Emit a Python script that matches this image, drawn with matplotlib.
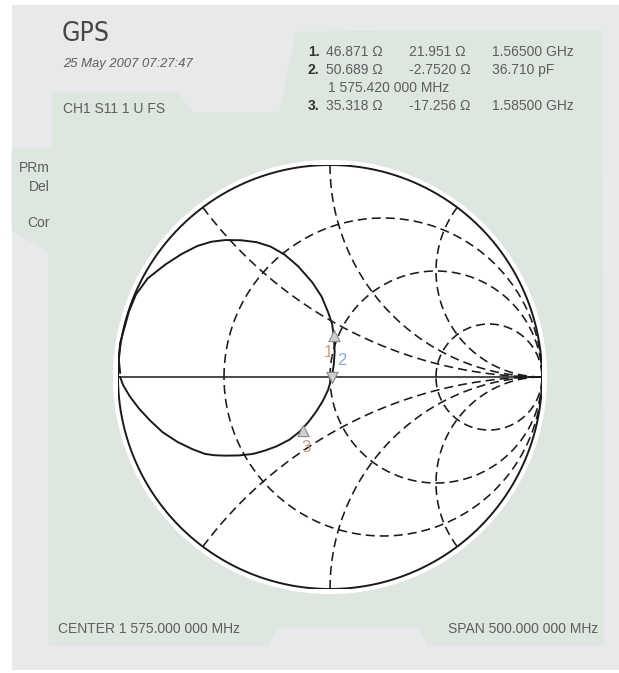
import matplotlib
matplotlib.use("Agg")
import matplotlib.pyplot as plt
import numpy as np
from matplotlib.patches import Polygon, Circle
from matplotlib.path import Path
from matplotlib import font_manager
from matplotlib.font_manager import FontProperties

plt.rcParams["lines.scale_dashes"] = False

# ---------------------------------------------------------------- header text
title = "GPS"
timestamp = "25 May 2007 07:27:47"
channel = "CH1 S11 1 U FS"
side_labels = ["PRm", "Del", "Cor"]
center_label = "CENTER 1 575.000 000 MHz"
span_label = "SPAN 500.000 000 MHz"

# ---------------------------------------------------------------- marker readout
marker_ids = ["1", "2", "3"]
marker_r = [46.871, 50.689, 35.318]      # resistance, ohm
marker_x = [21.951, -2.7520, -17.256]    # reactance, ohm
marker_extra = ["1.56500 GHz", "36.710 pF", "1.58500 GHz"]
marker2_freq = "1 575.420 000 MHz"
z0 = 50.0

# ---------------------------------------------------------------- Smith grid
grid_r = [1 / 3, 1.0, 3.0]
grid_x = [0.5, 1.0, 2.0]

# ---------------------------------------------------------------- S11 trace (reflection coefficient)
trace_re = [-0.990, -0.996, -0.990, -0.972, -0.948, -0.916, -0.860, -0.776, -0.700,
            -0.626, -0.560, -0.495, -0.420, -0.346, -0.280, -0.215, -0.150, -0.084,
            -0.040, -0.009, 0.010, 0.019, 0.022, 0.018, 0.009, -0.009, -0.035,
            -0.065, -0.100, -0.140, -0.190, -0.252, -0.310, -0.364, -0.430, -0.495,
            -0.545, -0.589, -0.650, -0.720, -0.790, -0.850, -0.900, -0.944, -0.975,
            -0.990]
trace_im = [0.020, 0.080, 0.160, 0.224, 0.310, 0.388, 0.465, 0.531, 0.580,
            0.618, 0.638, 0.646, 0.645, 0.636, 0.615, 0.578, 0.522, 0.447,
            0.380, 0.306, 0.250, 0.184, 0.120, 0.060, 0.000, -0.061, -0.115,
            -0.163, -0.210, -0.255, -0.295, -0.327, -0.348, -0.363, -0.370, -0.371,
            -0.369, -0.363, -0.340, -0.306, -0.260, -0.204, -0.150, -0.092, -0.040,
            0.000]


def pick_font(names):
    have = {f.name for f in font_manager.fontManager.ttflist}
    return [n for n in names if n in have] + ["DejaVu Sans"]


def narrow_font(size):
    """Prefer a condensed face for the big title, by file name."""
    files = [f.fname for f in font_manager.fontManager.ttflist]
    for key in ("LiberationSansNarrow-Regular", "DejaVuSansCondensed.", "Roboto-Regular",
                "Roboto-Medium"):
        for fn in files:
            if key in fn:
                return FontProperties(fname=fn, size=size)
    return FontProperties(family="DejaVu Sans", size=size)


SANS = pick_font(["Liberation Sans"])

W, H = 619, 673
fig = plt.figure(figsize=(W / 100, H / 100), dpi=100)
fig.patch.set_facecolor("white")

# background layer in pixel units (y downwards)
bg = fig.add_axes([0, 0, 1, 1])
bg.set_xlim(0, W)
bg.set_ylim(H, 0)
bg.axis("off")

GREY = "#e8e9eb"
GREEN = "#dee6e0"
TXT = "#5e5e5e"

bg.add_patch(Polygon([(12, 5), (W, 5), (W, 670), (12, 670)], closed=True,
                     facecolor=GREY, edgecolor="none"))
panel = [(55, 95), (176, 95), (191, 116), (282, 116), (299, 35), (598, 33),
         (601, 642), (430, 642), (421, 624), (276, 624), (267, 642), (52, 642),
         (52, 250), (15, 229), (15, 152), (55, 152)]
bg.add_patch(Polygon(panel, closed=True, facecolor=GREEN, edgecolor=GREEN,
                     linewidth=5.0, joinstyle="round"))

# header
bg.text(62, 34, title, fontproperties=narrow_font(19), color="#474747", va="center")
bg.text(63, 64, timestamp, fontsize=9.4, family=SANS, style="italic",
        color=TXT, va="center")
bg.text(63, 109, channel, fontsize=10, family=SANS, color=TXT, va="center")
for lab, y in zip(side_labels, [168, 187, 223]):
    bg.text(50, y, lab, fontsize=10, family=SANS, color=TXT, va="center", ha="right")

# marker readout table
rows_y = [52, 70, 106]
for mid, r, x, extra, y in zip(marker_ids, marker_r, marker_x, marker_extra, rows_y):
    bg.text(308, y, mid + ".", fontsize=10, family=SANS, color="#333333",
            weight="bold", va="center")
    bg.text(326, y, f"{r:#.5g} \u03a9", fontsize=10, family=SANS, color=TXT, va="center")
    bg.text(409, y, f"{x:#.5g} \u03a9", fontsize=10, family=SANS, color=TXT, va="center")
    bg.text(492, y, extra, fontsize=10, family=SANS, color=TXT, va="center")
bg.text(328, 88, marker2_freq, fontsize=10, family=SANS, color=TXT, va="center")

bg.text(58, 629, center_label, fontsize=10, family=SANS, color=TXT, va="center")
bg.text(598, 629, span_label, fontsize=10, family=SANS, color=TXT, va="center", ha="right")

# ---------------------------------------------------------------- Smith chart axes
CX, CY, R = 330, 377, 212
ax = fig.add_axes([(CX - R) / W, (H - CY - R) / H, 2 * R / W, 2 * R / H])
ax.set_xlim(-1, 1)
ax.set_ylim(-1, 1)
ax.axis("off")

ax.add_patch(Circle((0, 0), 1.024, facecolor="white", edgecolor="none", clip_on=False))

INK = "#1a1a1a"
DASH = (0, (6.5, 3.6))
GLW = 1.15

# constant resistance circles
for r in grid_r:
    c = r / (r + 1)
    rad = 1 / (r + 1)
    t = np.linspace(np.pi, -np.pi, 600)
    ax.plot(c + rad * np.cos(t), rad * np.sin(t), color=INK, lw=GLW, ls=DASH)

# constant reactance arcs, drawn from the rim inwards to the open-circuit point
for x in grid_x:
    for sgn in (1, -1):
        xs = sgn * x
        cy = 1 / xs
        rad = abs(cy)
        g0 = complex(xs * 1j - 1) / complex(xs * 1j + 1)
        th0 = np.arctan2(g0.imag - cy, g0.real - 1)
        th1 = -np.pi / 2 if sgn > 0 else np.pi / 2
        if sgn > 0:
            th0 = th0 % (2 * np.pi)
            th1 = th1 % (2 * np.pi)
        else:
            th0 = -((-th0) % (2 * np.pi))
            th1 = -((-th1) % (2 * np.pi))
        t = np.linspace(th0, th1, 600)
        ax.plot(1 + rad * np.cos(t), cy + rad * np.sin(t), color=INK, lw=GLW, ls=DASH)

# rim and real axis
t = np.linspace(0, 2 * np.pi, 800)
ax.plot(np.cos(t), np.sin(t), color=INK, lw=1.4)
ax.plot([-1, 1], [0, 0], color=INK, lw=1.1)

# measured trace
ax.plot(trace_re, trace_im, color=INK, lw=1.4, solid_joinstyle="round")

# markers from the readout impedances
z = (np.array(marker_r) + 1j * np.array(marker_x)) / z0
gam = (z - 1) / (z + 1)

up = Path([(0, 0), (-0.5, -1), (0.5, -1), (0, 0)],
          [Path.MOVETO, Path.LINETO, Path.LINETO, Path.CLOSEPOLY])
down = Path([(0, 0), (-0.5, 1), (0.5, 1), (0, 0)],
            [Path.MOVETO, Path.LINETO, Path.LINETO, Path.CLOSEPOLY])
shapes = [up, down, up]
label_off = [(-4, -16), (7, 16), (2, -16)]
label_col = ["#d59c76", "#84aadb", "#c9977a"]
for g, shp, mid, off, col in zip(gam, shapes, marker_ids, label_off, label_col):
    ax.plot([g.real], [g.imag], marker=shp, markersize=16, markerfacecolor="#cfcfcf",
            markeredgecolor="#8a8a8a", markeredgewidth=0.8, linestyle="none", zorder=5)
    ax.annotate(mid, (g.real, g.imag), xytext=off, textcoords="offset points",
                ha="center", va="center", fontsize=12, family=SANS, color=col, zorder=6)

fig.savefig("out.png", dpi=100, facecolor=fig.get_facecolor())
